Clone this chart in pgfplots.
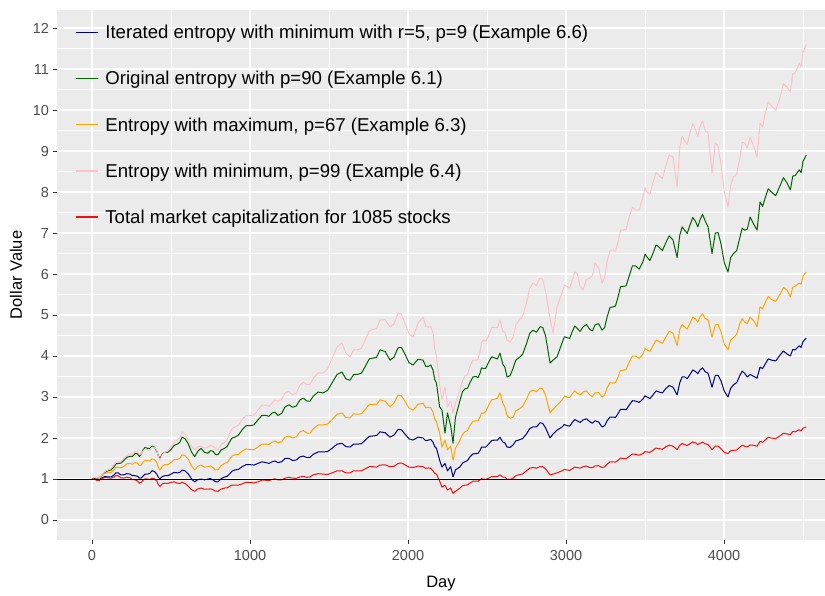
\documentclass[border=0pt]{standalone}
\usepackage{pgfplots}
\usepackage{pgfplotstable}
\pgfplotsset{compat=1.18}
\usepackage{fontspec}
\setmainfont{Liberation Sans}
\definecolor{panelgrey}{HTML}{EBEBEB}
\definecolor{ticktext}{HTML}{4D4D4D}
\definecolor{tickline}{HTML}{333333}
\definecolor{navyc}{HTML}{000080}
\definecolor{dgreen}{HTML}{006400}
\definecolor{orangec}{HTML}{FFA500}
\definecolor{pinkc}{HTML}{FFC0CB}
\definecolor{redc}{HTML}{EE1111}

\pgfplotstableread{
d b g o p r
0 1.00 1.00 1.00 1.00 1.00
15 1.01 1.03 1.04 1.04 1.00
30 0.98 1.02 1.03 1.04 0.97
45 0.98 1.03 1.03 1.05 0.965
60 1.02 1.08 1.08 1.10 1.00
80 1.06 1.16 1.14 1.18 1.035
100 1.05 1.20 1.15 1.22 1.03
120 1.05 1.22 1.16 1.26 1.02
140 1.10 1.30 1.22 1.35 1.05
152 1.15 1.37 1.28 1.41 1.085
165 1.15 1.38 1.29 1.42 1.08
182 1.10 1.385 1.27 1.43 1.03
200 1.10 1.45 1.30 1.50 1.02
220 1.13 1.53 1.37 1.58 1.045
240 1.12 1.55 1.38 1.60 1.03
256 1.08 1.55 1.36 1.60 0.985
272 1.08 1.62 1.40 1.66 0.98
286 1.07 1.62 1.39 1.66 0.96
300 1.02 1.55 1.33 1.60 0.90
311 1.025 1.60 1.34 1.61 0.915
323 1.07 1.71 1.41 1.68 0.97
336 1.12 1.77 1.46 1.73 1.005
350 1.12 1.75 1.45 1.72 1.00
365 1.135 1.74 1.44 1.71 0.99
380 1.20 1.80 1.49 1.78 1.02
395 1.185 1.78 1.475 1.78 1.005
410 1.12 1.68 1.40 1.70 0.95
420 1.04 1.56 1.28 1.55 0.865
430 1.00 1.50 1.22 1.46 0.82
445 1.06 1.61 1.31 1.59 0.88
460 1.08 1.65 1.35 1.65 0.90
480 1.08 1.65 1.35 1.68 0.89
500 1.12 1.72 1.40 1.78 0.92
520 1.16 1.82 1.47 1.90 0.93
540 1.15 1.85 1.48 1.95 0.90
555 1.16 1.89 1.50 2.00 0.89
570 1.22 2.02 1.59 2.15 0.92
590 1.195 1.98 1.57 2.09 0.89
610 1.12 1.85 1.48 1.95 0.82
630 1.00 1.66 1.32 1.79 0.74
650 0.93 1.54 1.22 1.71 0.70
670 0.985 1.68 1.31 1.79 0.755
690 1.00 1.75 1.34 1.80 0.78
712 0.98 1.65 1.29 1.75 0.75
734 1.00 1.63 1.30 1.78 0.75
750 1.01 1.69 1.32 1.83 0.76
765 0.98 1.68 1.28 1.80 0.74
781 0.935 1.60 1.22 1.72 0.705
797 0.93 1.59 1.22 1.71 0.70
818 1.01 1.71 1.33 1.84 0.755
840 1.05 1.75 1.38 1.90 0.78
855 1.065 1.79 1.40 1.96 0.785
870 1.12 1.90 1.48 2.10 0.82
887 1.195 2.00 1.565 2.23 0.85
905 1.22 2.02 1.59 2.27 0.85
927 1.235 2.07 1.60 2.31 0.85
950 1.30 2.20 1.68 2.45 0.88
975 1.35 2.30 1.735 2.55 0.92
1000 1.35 2.30 1.72 2.55 0.92
1025 1.34 2.32 1.715 2.56 0.905
1050 1.38 2.44 1.78 2.68 0.93
1075 1.42 2.55 1.85 2.80 0.97
1100 1.40 2.55 1.85 2.80 0.97
1120 1.38 2.53 1.84 2.77 0.96
1140 1.42 2.61 1.90 2.85 0.99
1158 1.44 2.63 1.93 2.93 1.005
1177 1.40 2.55 1.88 2.90 0.98
1200 1.42 2.60 1.91 2.94 0.98
1222 1.50 2.76 2.02 3.10 1.02
1246 1.505 2.81 2.05 3.14 1.04
1270 1.45 2.75 2.00 3.05 1.02
1293 1.465 2.78 2.03 3.10 1.015
1316 1.54 2.93 2.15 3.29 1.05
1338 1.56 2.97 2.18 3.36 1.065
1360 1.52 2.90 2.12 3.30 1.04
1380 1.53 2.90 2.12 3.31 1.05
1400 1.60 3.02 2.22 3.45 1.10
1431 1.66 3.12 2.32 3.59 1.13
1462 1.66 3.10 2.32 3.58 1.12
1491 1.67 3.16 2.34 3.69 1.11
1520 1.75 3.35 2.45 3.95 1.15
1551 1.85 3.55 2.58 4.22 1.20
1582 1.87 3.61 2.61 4.32 1.20
1607 1.79 3.44 2.50 4.07 1.15
1633 1.78 3.41 2.49 3.98 1.15
1656 1.85 3.55 2.59 4.15 1.20
1680 1.85 3.55 2.58 4.15 1.20
1705 1.86 3.58 2.59 4.19 1.20
1730 1.95 3.75 2.70 4.40 1.25
1755 2.04 3.93 2.82 4.62 1.30
1780 2.05 3.95 2.82 4.65 1.30
1801 2.06 3.97 2.82 4.67 1.29
1823 2.15 4.15 2.93 4.88 1.34
1855 2.13 4.11 2.90 4.89 1.345
1886 2.02 3.90 2.76 4.71 1.30
1911 2.07 3.97 2.85 4.78 1.31
1937 2.21 4.20 3.05 5.05 1.38
1958 2.20 4.21 3.03 5.02 1.39
1980 2.10 4.05 2.90 4.80 1.35
2006 1.98 3.84 2.73 4.54 1.29
2032 1.95 3.78 2.68 4.46 1.28
2063 2.02 3.92 2.82 4.80 1.315
2095 2.00 3.90 2.85 4.95 1.30
2112 1.935 3.75 2.74 4.73 1.26
2130 1.95 3.75 2.75 4.70 1.27
2144 1.965 3.78 2.74 4.72 1.26
2158 1.90 3.66 2.63 4.56 1.20
2169 1.79 3.43 2.46 4.18 1.135
2180 1.75 3.34 2.40 3.98 1.12
2200 1.46 2.76 2.12 3.30 0.95
2215 1.29 2.68 1.78 2.93 0.80
2234 1.38 2.12 1.95 3.24 0.85
2250 1.20 2.61 1.71 2.76 0.73
2270 1.30 2.30 1.80 2.90 0.78
2285 1.05 1.87 1.46 2.61 0.65
2300 1.22 2.50 1.75 2.85 0.70
2330 1.30 2.93 1.95 3.17 0.78
2345 1.39 3.13 2.09 3.40 0.835
2360 1.42 3.20 2.15 3.50 0.85
2376 1.45 3.21 2.18 3.55 0.855
2392 1.54 3.35 2.30 3.75 0.90
2411 1.61 3.49 2.41 3.90 0.945
2430 1.62 3.50 2.42 3.90 0.95
2443 1.625 3.47 2.415 3.92 0.945
2456 1.70 3.58 2.51 4.10 0.98
2465 1.775 3.71 2.61 4.33 1.01
2475 1.78 3.70 2.60 4.39 1.00
2492 1.78 3.70 2.645 4.36 0.99
2510 1.85 3.85 2.80 4.50 1.02
2530 1.94 3.98 2.93 4.69 1.06
2550 1.95 3.95 2.95 4.70 1.06
2566 1.945 3.93 2.965 4.69 1.06
2582 2.02 4.07 3.10 4.88 1.10
2600 1.90 3.80 2.85 4.60 1.05
2613 1.88 3.72 2.75 4.58 1.045
2627 1.78 3.49 2.55 4.39 1.00
2646 1.77 3.52 2.48 4.34 0.99
2665 1.83 3.70 2.51 4.46 1.02
2682 1.93 3.90 2.66 4.75 1.08
2700 1.95 3.95 2.70 4.85 1.10
2725 1.985 4.04 2.77 4.97 1.125
2750 2.10 4.30 2.95 5.30 1.20
2770 2.23 4.55 3.12 5.65 1.265
2791 2.27 4.63 3.17 5.78 1.28
2813 2.27 4.58 3.13 5.72 1.265
2835 2.37 4.71 3.22 5.90 1.30
2852 2.36 4.70 3.20 5.87 1.30
2870 2.25 4.50 3.05 5.60 1.25
2899 2.00 3.83 2.61 4.90 1.10
2918 2.10 3.90 2.70 4.56 1.12
2943 2.19 3.98 2.80 5.20 1.15
2975 2.27 4.32 2.93 5.54 1.20
2990 2.33 4.47 3.02 5.73 1.235
3006 2.30 4.45 3.00 5.70 1.22
3023 2.29 4.43 2.98 5.66 1.21
3040 2.38 4.60 3.08 5.85 1.25
3055 2.45 4.73 3.15 6.05 1.29
3070 2.42 4.68 3.10 6.02 1.28
3089 2.38 4.60 3.05 5.70 1.265
3108 2.44 4.71 3.12 5.61 1.30
3129 2.47 4.77 3.15 5.87 1.315
3150 2.40 4.65 3.05 5.90 1.28
3167 2.36 4.61 3.01 5.96 1.275
3184 2.42 4.76 3.10 6.27 1.32
3206 2.39 4.79 3.11 6.15 1.325
3228 2.27 4.63 3.00 5.78 1.28
3244 2.30 4.69 3.05 5.92 1.295
3260 2.42 4.95 3.22 6.30 1.36
3278 2.51 5.18 3.35 6.57 1.42
3297 2.51 5.20 3.34 6.59 1.42
3313 2.50 5.22 3.35 6.56 1.41
3330 2.60 5.45 3.50 6.80 1.46
3345 2.70 5.69 3.65 7.07 1.51
3361 2.70 5.70 3.65 7.07 1.50
3380 2.69 5.71 3.67 7.09 1.495
3400 2.80 5.95 3.85 7.40 1.55
3420 2.91 6.20 4.00 7.63 1.61
3440 2.90 6.20 4.00 7.56 1.60
3463 2.87 6.12 3.94 7.56 1.58
3487 2.95 6.30 4.05 7.88 1.62
3500 3.03 6.48 4.18 8.10 1.67
3513 3.00 6.41 4.15 8.00 1.66
3531 2.96 6.33 4.11 7.95 1.65
3550 3.05 6.50 4.25 8.22 1.70
3570 3.15 6.71 4.39 8.48 1.755
3590 3.12 6.65 4.35 8.40 1.74
3610 3.10 6.57 4.31 8.33 1.725
3630 3.20 6.75 4.45 8.61 1.78
3653 3.28 6.93 4.60 8.90 1.825
3677 3.24 6.83 4.56 8.85 1.80
3703 3.05 6.40 4.25 8.12 1.72
3720 3.35 6.95 4.65 9.10 1.82
3735 3.49 7.15 4.77 9.36 1.865
3750 3.49 7.07 4.71 9.25 1.84
3767 3.45 6.99 4.66 9.16 1.815
3785 3.55 7.20 4.80 9.44 1.86
3802 3.66 7.38 4.95 9.67 1.905
3820 3.62 7.28 4.90 9.52 1.88
3834 3.57 7.15 4.83 9.36 1.84
3848 3.66 7.32 4.95 9.59 1.87
3864 3.71 7.46 5.03 9.74 1.90
3880 3.62 7.30 4.92 9.50 1.86
3899 3.58 7.15 4.88 9.44 1.84
3924 3.24 6.50 4.46 8.46 1.72
3945 3.53 7.00 4.76 9.20 1.80
3962 3.53 7.01 4.77 9.13 1.805
3980 3.40 6.75 4.60 8.70 1.74
4002 3.14 6.27 4.29 8.00 1.65
4025 3.00 6.05 4.15 7.63 1.62
4042 3.21 6.40 4.39 8.16 1.69
4060 3.30 6.50 4.45 8.37 1.70
4080 3.35 6.57 4.53 8.44 1.705
4101 3.53 6.90 4.80 8.85 1.78
4115 3.63 7.12 4.91 9.21 1.825
4130 3.58 7.07 4.83 9.20 1.80
4147 3.49 7.09 4.79 9.08 1.78
4165 3.55 7.39 4.95 9.34 1.83
4190 3.50 7.20 4.85 9.10 1.82
4209 3.46 7.07 4.71 8.85 1.80
4228 3.73 7.76 5.20 9.68 1.92
4244 3.69 7.65 5.15 9.59 1.895
4260 3.80 7.85 5.30 9.90 1.95
4280 3.93 8.08 5.45 10.20 2.015
4300 3.90 8.00 5.38 10.10 2.00
4327 3.88 7.91 5.33 10.00 1.985
4354 4.02 8.15 5.50 10.30 2.05
4376 4.12 8.35 5.67 10.64 2.115
4399 4.05 8.22 5.61 10.56 2.10
4420 4.00 8.05 5.44 10.44 2.08
4435 4.16 8.39 5.68 10.88 2.16
4450 4.15 8.40 5.70 10.90 2.15
4476 4.25 8.54 5.78 11.15 2.20
4488 4.21 8.47 5.75 11.05 2.175
4500 4.35 8.75 5.95 11.40 2.24
4520 4.44 8.90 6.05 11.60 2.27
}\datatable

\begin{document}
\begin{tikzpicture}
\begin{axis}[
  at={(0,0)}, anchor=south west,
  scale only axis,
  width=768pt, height=530pt,
  xmin=-221.5, xmax=4639,
  ymin=-0.488, ymax=12.44,
  axis background/.style={fill=panelgrey},
  axis line style={draw=none},
  xtick={0,1000,2000,3000,4000},
  ytick={0,1,...,12},
  minor xtick={500,1500,2500,3500,4500},
  minor ytick={-0.5,0.5,1.5,...,11.5},
  grid=both,
  major grid style={white, line width=1.1pt},
  minor grid style={white, line width=0.55pt},
  tick pos=left,
  tick align=outside,
  major tick length=3.5pt,
  minor tick length=0pt,
  tick style={tickline, line width=0.8pt},
  /pgf/number format/assume math mode=true,
  /pgf/number format/1000 sep={},
  ticklabel style={font=\fontsize{14.5}{16}\selectfont, text=ticktext},
  xticklabel style={yshift=-3pt},
  yticklabel style={xshift=-1pt},
  xlabel={Day},
  ylabel={Dollar Value},
  label style={font=\fontsize{16.5}{18}\selectfont, text=black},
  xlabel style={yshift=-9pt},
  ylabel style={yshift=4pt},
  legend cell align=left,
  legend image code/.code={\draw[#1, line width=1.2pt] (0pt,0.3pt) -- (22pt,0.3pt);},
  legend style={at={(rel axis cs:0,1)}, anchor=north west, xshift=15pt, yshift=-10pt,
    draw=none, fill=none, font=\fontsize{18.6}{21}\selectfont,
    row sep=25.2pt, column sep=4pt, nodes={inner sep=3pt}},
  every axis plot/.append style={line width=1.0pt, line join=round},
]
\addplot[color=navyc] table[x=d, y=b] {\datatable};
\addlegendentry{Iterated entropy with minimum with r=5, p=9 (Example 6.6)}
\addplot[color=dgreen] table[x=d, y=g] {\datatable};
\addlegendentry{Original entropy with p=90 (Example 6.1)}
\addplot[color=orangec] table[x=d, y=o] {\datatable};
\addlegendentry{Entropy with maximum, p=67 (Example 6.3)}
\addplot[color=pinkc] table[x=d, y=p] {\datatable};
\addlegendentry{Entropy with minimum, p=99 (Example 6.4)}
\addplot[color=redc] table[x=d, y=r] {\datatable};
\addlegendentry{Total market capitalization for 1085 stocks}
\addplot[black, line width=0.7pt, forget plot] coordinates {(-221.5,1) (4639,1)};
\end{axis}
\pgfresetboundingbox
\path[use as bounding box] (-57pt,-55pt) rectangle (768pt,540pt);
\end{tikzpicture}
\end{document}
